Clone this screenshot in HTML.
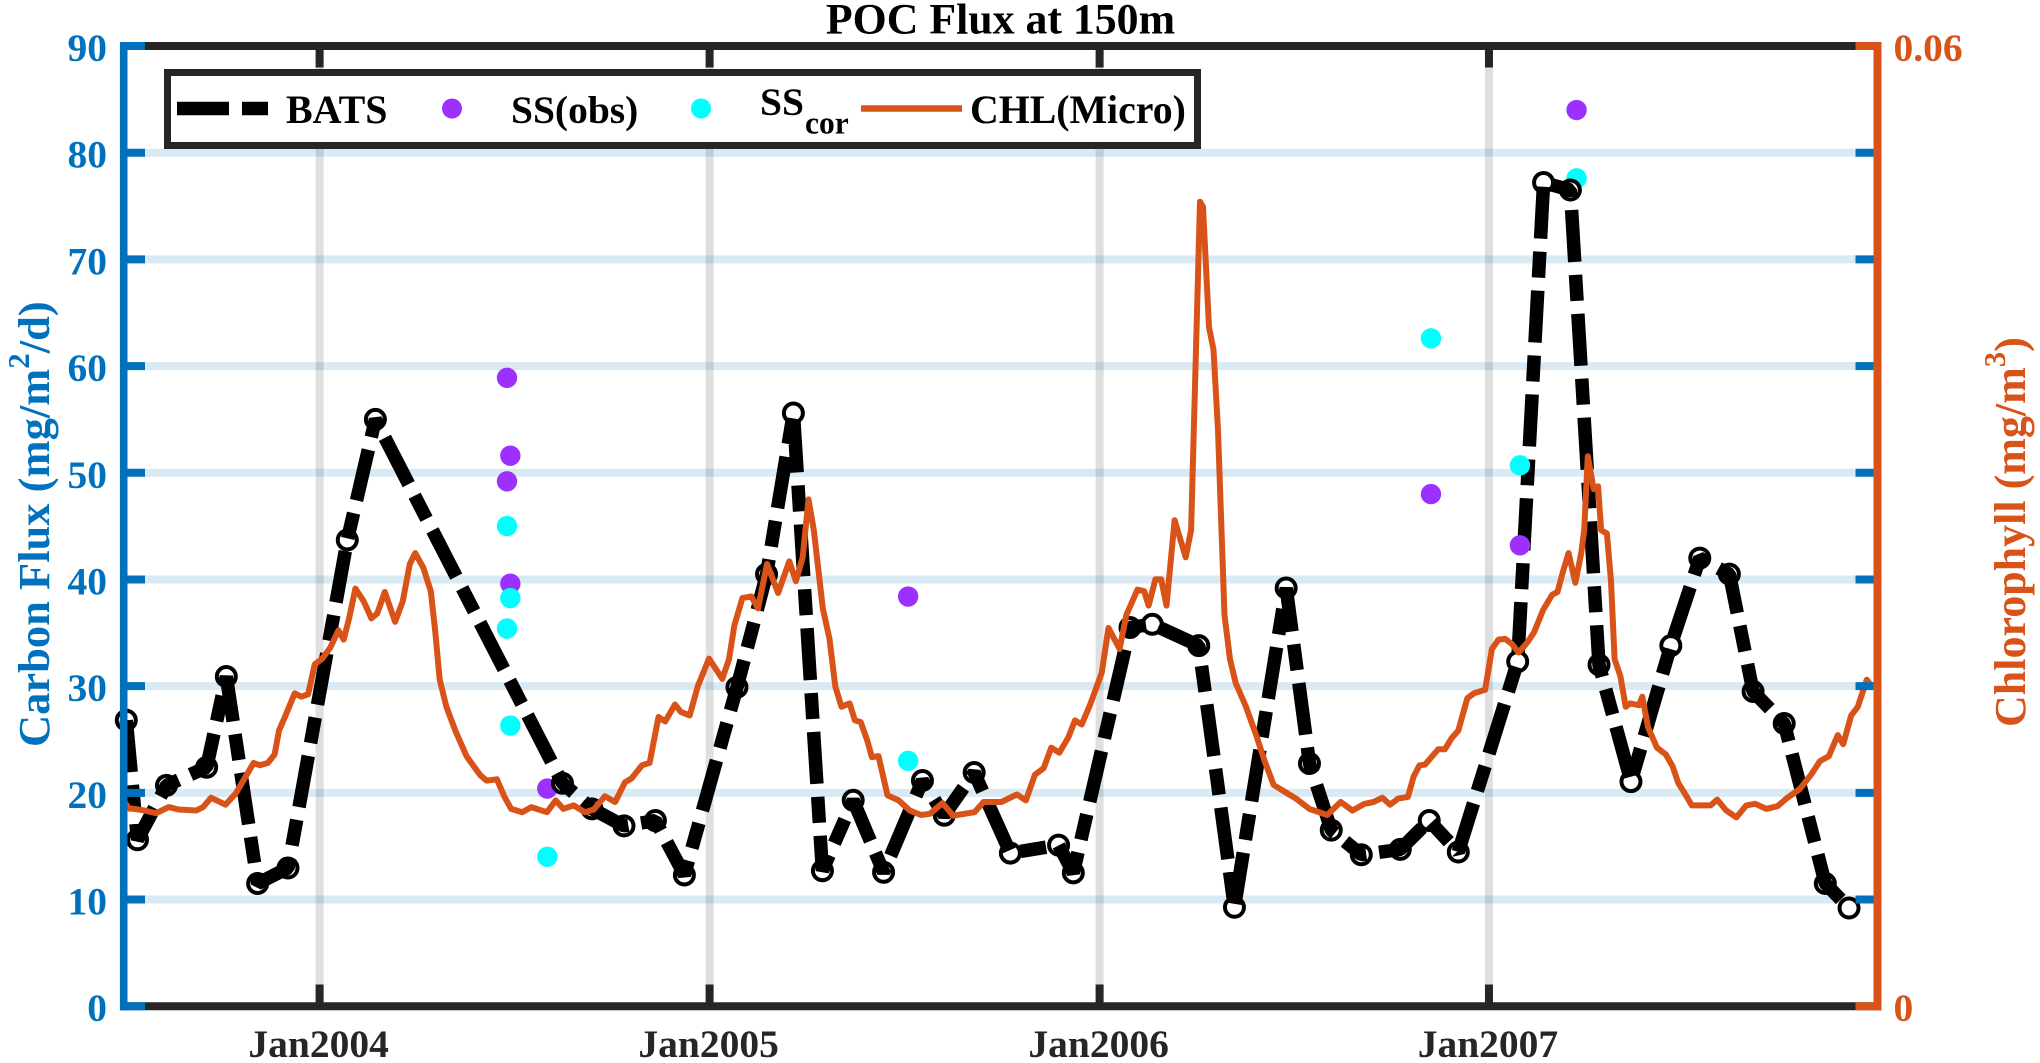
<!DOCTYPE html>
<html lang="en">
<head>
<meta charset="utf-8">
<title>POC Flux at 150m</title>
<style>
html,body{margin:0;padding:0;background:#fff;width:2040px;height:1063px;overflow:hidden}
svg{display:block}
text{font-family:"Liberation Serif",serif;font-weight:bold}
</style>
</head>
<body>
<svg id="chart" xmlns="http://www.w3.org/2000/svg" width="2040" height="1063" viewBox="0 0 2040 1063">
  <rect width="2040" height="1063" fill="#ffffff"/>
  <g id="grid"></g>
  <g id="under"></g>
  <g id="markers"></g>
  <path id="batsLine" fill="none" stroke="#000" stroke-width="13.5" stroke-dasharray="52 13 26 13" stroke-linejoin="bevel"/>
  <g id="over"></g>
  <path id="chlLine" fill="none" stroke="#D95319" stroke-width="6" stroke-linejoin="round"/>
  <g id="axes"></g>

  <text x="1000.5" y="33.7" font-size="43.8" text-anchor="middle" fill="#000">POC Flux at 150m</text>
  <text transform="translate(49,747) rotate(-90)" font-size="44.5" fill="#0072BD">Carbon Flux (mg/m<tspan font-size="31" dy="-20">2</tspan><tspan dy="20">/d)</tspan></text>
  <text transform="translate(2025,727) rotate(-90)" font-size="44" fill="#D95319">Chlorophyll (mg/m<tspan font-size="31" dy="-20">3</tspan><tspan dy="20">)</tspan></text>

  <g>
    <rect x="167.5" y="72.5" width="1030" height="73" fill="#fff" stroke="#262626" stroke-width="7"/>
    <line x1="177" y1="108.5" x2="269" y2="108.5" stroke="#000" stroke-width="13.5" stroke-dasharray="52 13 26 13"/>
    <text x="286" y="123" font-size="40" fill="#000">BATS</text>
    <circle cx="452" cy="108.5" r="10" fill="#9B30FF"/>
    <text x="511" y="123" font-size="39.5" fill="#000">SS(obs)</text>
    <circle cx="701" cy="108.5" r="10" fill="#00FFFF"/>
    <text x="760" y="115" font-size="39.5" fill="#000">SS</text>
    <text x="805" y="133.6" font-size="31.5" fill="#000">cor</text>
    <line x1="861" y1="108.5" x2="962" y2="108.5" stroke="#D95319" stroke-width="6.5"/>
    <text x="970" y="123" font-size="39.8" fill="#000">CHL(Micro)</text>
  </g>
</svg>
<script>
// x values are axis days counted from the Jan2004 tick
const batsDays = [-180.9,-170.4,-143.3,-105.7,-87.3,-58,-29.6,25.9,52.2,227.3,254.9,284.9,314.3,341.4,390.6,418.3,443.4,470.6,499.4,527.8,564.2,584.6,612.6,646.5,691.6,705.4,758.4,779.3,822.8,856.2,904.6,926.4,946.8,974.9,1011.4,1038.5,1065.7,1121.3,1145.5,1170.6,1197.4,1227.3,1264.6,1291.7,1319.4,1341.6,1370.7,1409.2,1431.4];
const batsFlux = [26.8,15.6,20.7,22.4,30.9,11.5,12.95,43.7,55.0,20.9,18.5,16.9,17.4,12.3,29.9,40.5,55.6,12.7,19.3,12.55,21.15,17.9,21.9,14.35,15.1,12.5,35.5,35.8,33.8,9.27,39.2,22.75,16.5,14.2,14.7,17.4,14.45,32.3,77.2,76.5,32.0,21.05,33.8,42.0,40.5,29.5,26.5,11.5,9.2];
const ssObsDays = [175.4,178.5,175.4,178.5,213.1,550.8,1040.1,1123.4,1176.4];
const ssObsFlux = [58.9,51.6,49.2,39.6,20.4,38.4,48.0,43.2,84.0];
const ssCorDays = [175.4,178.5,175.4,178.5,213.1,550.8,1040.1,1123.4,1176.4];
const ssCorFlux = [45.0,38.25,35.4,26.3,14.0,23.0,62.6,50.7,77.6];
// dots that sit beneath the BATS line/markers in the figure
const ssObsBehind = [4];
const ssCorBehind = [8];
// chlorophyll in 10^-3 mg/m^3
const chlDays = [-183.3,-178.8,-165.4,-152.9,-141.2,-132,-115.3,-109,-101.5,-88.1,-78.5,-70.1,-61.8,-55.9,-48.4,-42.1,-38,-32.5,-23.3,-17.1,-10.8,-4.6,2.5,10.1,17.6,22.6,27.6,33.5,41.4,48.5,54,61,70.7,77.8,84.4,89.5,97,104.1,108.3,112.4,118.7,127,137.5,150,156.3,165.9,173,179.3,189.7,198.1,212.7,221,228.1,237.8,248.2,256.6,267,276.6,285.8,292.1,301.7,308.8,317.2,323.4,332.6,338,346.4,353.9,364.4,376.9,383.2,388.2,395.7,404,410.3,418.7,429.1,439.6,445.8,452.1,457.6,462.5,470.9,477.2,482.6,488.4,496,501,506.4,512.7,516.9,523.1,531.5,541.9,552.4,562.8,571.2,582.9,592.9,613,621.3,638,652.6,661,669.4,677.7,684.8,692.3,700.7,707,713.2,721.6,732,738.3,748.7,755,765.5,771.7,775.9,782.2,787.6,792.6,800.2,810.6,815.6,824,826.8,832.4,836.6,840.8,844.1,846.9,852,857.4,867,876.2,884.5,892.9,903.3,913.8,926.3,943,955.5,966.7,978,986.3,994.7,1001.8,1009.3,1018.5,1023.9,1029.4,1034.4,1046.9,1053.2,1059.5,1065.7,1074.1,1080.3,1090.8,1097.1,1103.3,1109.6,1115.9,1122.1,1130.5,1136.7,1145.1,1153.5,1158.5,1163.9,1168.9,1175.2,1180.6,1183.5,1186.9,1192.4,1196.5,1199.3,1204.8,1208.6,1212,1217.4,1222.4,1226.6,1234.9,1237.9,1243.3,1251.6,1260,1266.3,1271.7,1276.7,1284.2,1301.8,1308,1316.4,1326,1335.2,1343.6,1354,1364.4,1372.8,1385.3,1395.8,1404.1,1412.5,1420.9,1425.9,1433.4,1439.6,1448,1453];
const chlValues = [12.86,12.38,12.25,12.06,12.44,12.29,12.23,12.44,13.03,12.59,13.29,14.25,15.2,15.05,15.2,15.73,17.22,18.07,19.55,19.34,19.49,21.36,21.72,22.42,23.48,22.91,24.23,26.1,25.29,24.23,24.55,25.88,24.02,25.29,27.63,28.31,27.41,25.93,23.38,20.4,18.71,17.22,15.63,14.46,14.1,14.18,13.08,12.33,12.12,12.44,12.12,12.86,12.33,12.55,12.12,12.29,13.12,12.76,13.99,14.25,15.05,15.2,18.07,17.79,18.85,18.39,18.17,19.98,21.72,20.45,21.68,23.8,25.5,25.61,24.86,27.63,25.82,27.8,26.56,28.05,31.67,29.75,24.86,22.95,19.98,18.71,18.92,17.86,17.75,16.58,15.56,15.63,13.18,12.86,12.23,11.95,12.02,12.69,11.91,12.12,12.76,12.76,13.23,12.86,14.46,14.88,16.16,15.84,16.79,17.86,17.6,18.92,20.83,23.63,22.32,24.44,26.03,25.93,25.03,26.67,26.67,25.03,30.37,28.05,29.75,50.27,49.95,42.43,41.02,36.0,29.75,24.44,21.68,20.19,18.71,17.01,15.31,13.82,13.4,12.97,12.33,11.95,12.76,12.23,12.65,12.76,13.03,12.59,12.97,13.08,14.35,15.05,15.09,16.05,16.05,16.75,17.22,19.24,19.55,19.77,22.32,22.91,22.95,22.63,22.1,22.74,23.38,24.76,25.71,25.88,27.2,28.31,26.46,28.26,29.75,34.37,32.3,32.49,29.75,29.54,26.56,21.68,20.62,18.71,18.92,18.81,19.34,17.43,16.16,15.73,14.99,13.93,13.4,12.55,12.55,12.91,12.23,11.8,12.55,12.65,12.33,12.5,12.97,13.57,14.46,15.31,15.63,16.94,16.37,18.17,18.71,20.4,19.94];
const xTickDays = [0,365,730,1094.4];
const xTickLabels = ['Jan2004','Jan2005','Jan2006','Jan2007'];
const yTicksLeft = [0,10,20,30,40,50,60,70,80,90];
const yTicksRightValues = [0,60];
const yTicksRightLabels = ['0','0.06'];

const SVGNS = 'http://www.w3.org/2000/svg';
const xScale = d => 319.6 + d * 1.0685;
const yLeft = v => 1006.2 - v * (960.2 / 90);
const yRight = v => 1006.2 - v * (960.2 / 60);
function make(parent, tag, attrs, txt) {
  const el = document.createElementNS(SVGNS, tag);
  for (const k in attrs) el.setAttribute(k, attrs[k]);
  if (txt !== undefined) el.textContent = txt;
  parent.appendChild(el);
  return el;
}
const grid = document.getElementById('grid');
const axes = document.getElementById('axes');
const L = 120, R = 1881.5, TOP = 46, BOT = 1006.2;

yTicksLeft.forEach(v => {
  if (v === 0 || v === 90) return;
  const g = make(grid, 'line', {x1: 127, x2: 1873.5, y1: yLeft(v), y2: yLeft(v), stroke: '#0072BD', 'stroke-opacity': 0.15, 'stroke-width': 8});
  
  
});
xTickDays.forEach(d => {
  const g = make(grid, 'line', {x1: xScale(d), x2: xScale(d), y1: 50, y2: 1002, stroke: '#262626', 'stroke-opacity': 0.15, 'stroke-width': 8});
  
  
});

const under = document.getElementById('under');
const over = document.getElementById('over');
function dot(days, flux, i, fill, behind, name) {
  const c = make(behind.includes(i) ? under : over, 'circle', {cx: xScale(days[i]), cy: yLeft(flux[i]), r: 10.2, fill: fill});
  
  
}
ssObsDays.forEach((_, i) => dot(ssObsDays, ssObsFlux, i, '#9B30FF', ssObsBehind, 'ss-obs-point'));
ssCorDays.forEach((_, i) => dot(ssCorDays, ssCorFlux, i, '#00FFFF', ssCorBehind, 'ss-cor-point'));

const markers = document.getElementById('markers');
batsDays.forEach((d, i) => {
  const m = make(markers, 'circle', {cx: xScale(d), cy: yLeft(batsFlux[i]), r: 9.5, fill: '#fff', stroke: '#000', 'stroke-width': 4});
  
  
});
document.getElementById('batsLine').setAttribute('d', 'M' + batsDays.map((d, i) => xScale(d).toFixed(1) + ' ' + yLeft(batsFlux[i]).toFixed(1)).join('L'));
document.getElementById('chlLine').setAttribute('d', 'M' + chlDays.map((d, i) => xScale(d).toFixed(1) + ' ' + yRight(chlValues[i]).toFixed(1)).join('L'));

// top and bottom spines
[TOP, BOT].forEach(y => {
  const s = make(axes, 'line', {x1: L, x2: R, y1: y, y2: y, stroke: '#262626', 'stroke-width': 8});
  
  
});
xTickDays.forEach((d, i) => {
  const t1 = make(axes, 'line', {x1: xScale(d), x2: xScale(d), y1: TOP, y2: 67.5, stroke: '#262626', 'stroke-width': 8});
  
  
  const t2 = make(axes, 'line', {x1: xScale(d), x2: xScale(d), y1: 984.5, y2: BOT, stroke: '#262626', 'stroke-width': 8});
  
  
  const l = make(axes, 'text', {x: xScale(d) - 1, y: 1057, 'font-size': 39.5, 'text-anchor': 'middle', fill: '#262626'}, xTickLabels[i]);
  
  
});
yTicksLeft.forEach(v => {
  const t1 = make(axes, 'line', {x1: L, x2: 145, y1: yLeft(v), y2: yLeft(v), stroke: '#0072BD', 'stroke-width': 8});
  
  
  if (v !== 0 && v !== 90) {
    const t2 = make(axes, 'line', {x1: 1855.5, x2: 1875, y1: yLeft(v), y2: yLeft(v), stroke: '#0072BD', 'stroke-width': 8});
    
    
  }
  const l = make(axes, 'text', {x: 107, y: yLeft(v) + 15, 'font-size': 39.5, 'text-anchor': 'end', fill: '#0072BD'}, String(v));
  
  
});
yTicksRightValues.forEach((v, i) => {
  const t = make(axes, 'line', {x1: 1855.5, x2: R, y1: yRight(v), y2: yRight(v), stroke: '#D95319', 'stroke-width': 8});
  
  
  const l = make(axes, 'text', {x: 1893.5, y: yRight(v) + 15, 'font-size': 39.5, fill: '#D95319'}, yTicksRightLabels[i]);
  
  
});
const sl = make(axes, 'line', {x1: 123.7, x2: 123.7, y1: 42, y2: 1010.2, stroke: '#0072BD', 'stroke-width': 7.6});


const sr = make(axes, 'line', {x1: 1877.5, x2: 1877.5, y1: 42, y2: 1010.2, stroke: '#D95319', 'stroke-width': 8});


</script>
</body>
</html>
